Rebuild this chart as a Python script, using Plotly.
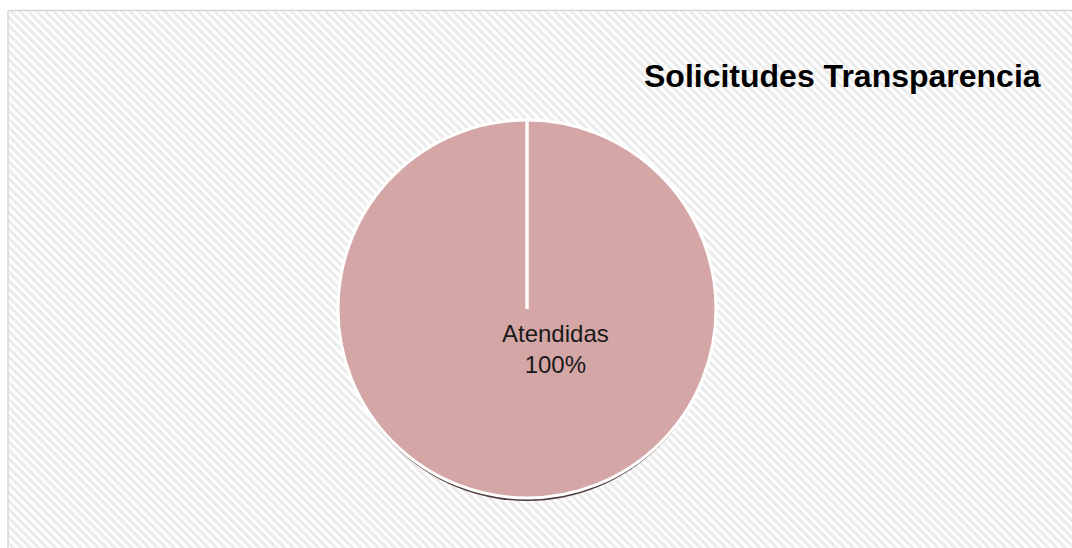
import plotly.graph_objects as go

# Data
labels = ["Atendidas"]
values = [100]
percent_labels = ["100%"]
title_text = "Solicitudes Transparencia"

W, H = 1072, 548
cx, cy, r = 527, 309, 189  # pie center / radius in pixels

def px_x(x):
    return x / W

def px_y(y):
    return 1 - y / H

fig = go.Figure()

# Hatched background panel with border
fig.add_trace(go.Scatter(
    x=[8, 1085, 1085, 8, 8], y=[10.5, 10.5, 560, 560, 10.5],
    mode="lines", fill="toself",
    line=dict(color="#d6d6d6", width=1.5),
    fillcolor="white",
    fillpattern=dict(shape="\\", fgcolor="#d8d8d8", bgcolor="white", size=6, solidity=0.5),
    hoverinfo="skip", showlegend=False,
))

# Shadow pie
fig.add_trace(go.Pie(
    labels=labels, values=values, sort=False,
    marker=dict(colors=["#4f3c3c"], line=dict(color="#4f3c3c", width=0)),
    textinfo="none", hoverinfo="skip", showlegend=False,
    domain=dict(x=[px_x(cx - r + 2), px_x(cx + r - 2)],
                y=[px_y(cy + 5 + r - 2), px_y(cy + 5 - r + 2)]),
))

# Main pie
fig.add_trace(go.Pie(
    labels=labels, values=values, sort=False,
    marker=dict(colors=["#d4a6a6"], line=dict(color="white", width=3)),
    textinfo="none", showlegend=False, rotation=0,
    domain=dict(x=[px_x(cx - r), px_x(cx + r)],
                y=[px_y(cy + r), px_y(cy - r)]),
))

fig.update_layout(
    width=W, height=H,
    margin=dict(l=0, r=0, t=0, b=0),
    paper_bgcolor="white", plot_bgcolor="white",
    xaxis=dict(range=[0, W], visible=False, domain=[0, 1], fixedrange=True),
    yaxis=dict(range=[H, 0], visible=False, domain=[0, 1], fixedrange=True),
    shapes=[dict(type="line", xref="paper", yref="paper",
                 x0=px_x(cx), x1=px_x(cx), y0=px_y(cy), y1=px_y(cy - r),
                 line=dict(color="white", width=3.5), layer="above")],
    annotations=[
        dict(text=f"<b>{title_text}</b>", xref="paper", yref="paper",
             x=px_x(1043), y=px_y(76), xanchor="right", yanchor="middle",
             showarrow=False, font=dict(family="Arial, Liberation Sans", size=32, color="black")),
        dict(text=f"{labels[0]}<br>{percent_labels[0]}", xref="paper", yref="paper",
             x=px_x(555), y=px_y(349), xanchor="center", yanchor="middle",
             showarrow=False, font=dict(family="Arial, Liberation Sans", size=24, color="#1a1a1a")),
    ],
)

fig.write_html(
    "out.html",
    config={"displayModeBar": False},
    post_script="document.body.style.margin='0';document.body.style.overflow='hidden';",
)
